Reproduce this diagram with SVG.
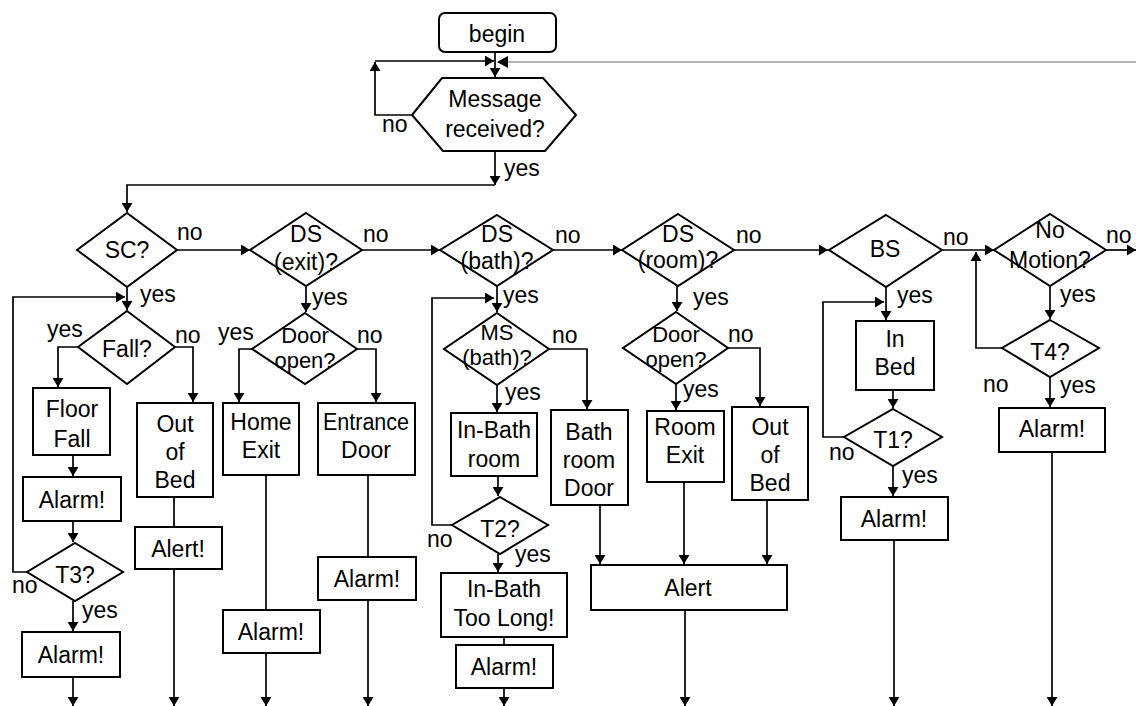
<svg xmlns="http://www.w3.org/2000/svg" width="1136" height="706" viewBox="0 0 1136 706">
<defs>
<marker id="ah" viewBox="0 0 10 10" markerWidth="9" markerHeight="11" refX="10" refY="5" orient="auto" markerUnits="userSpaceOnUse" preserveAspectRatio="none">
<path d="M0,0 L10,5 L0,10 z" fill="#000"/>
</marker>
</defs>
<style>
.s{fill:#fff;stroke:#000;stroke-width:2}
.c{fill:none;stroke:#000;stroke-width:1.7}
.a{marker-end:url(#ah)}
.g{fill:none;stroke:#999;stroke-width:1.6}
text{font-family:"Liberation Sans",Arial,sans-serif;font-size:23px;fill:#000}
.m{text-anchor:middle}
.t{font-size:22px}
</style>
<rect width="1136" height="706" fill="#fff"/>
<g id="connectors">
<path class="c a" d="M495,52 V77"/>
<path class="c a" d="M412,115 H375 V62"/>
<path class="c a" d="M375,61 H494"/>
<path class="g" d="M1136,62 H506"/>
<path d="M508,56 L497,62 L508,68 z" fill="#000"/>
<path class="c a" d="M495,151 V185"/>
<path class="c a" d="M495,185 H127 V212"/>
<path class="c a" d="M177,250 H250"/>
<path class="c a" d="M362,250 H440"/>
<path class="c a" d="M553,250 H622"/>
<path class="c a" d="M734,250 H828"/>
<path class="c a" d="M942,250 H994"/>
<path class="c a" d="M1106,250 H1136"/>
<path class="c a" d="M127,287 V310"/>
<path class="c a" d="M27,572 H13 V297 H125"/>
<path class="c a" d="M78,347 H58 V387"/>
<path class="c a" d="M175,347 H193 V402"/>
<path class="c a" d="M73,455 V476"/>
<path class="c a" d="M73,521 V542"/>
<path class="c a" d="M73,601 V631"/>
<path class="c a" d="M73,677 V706"/>
<path class="c" d="M174,497 V527"/>
<path class="c a" d="M174,569 V706"/>
<path class="c a" d="M306,286 V312"/>
<path class="c a" d="M252,349 H239 V402"/>
<path class="c a" d="M357,349 H376 V402"/>
<path class="c" d="M266,475 V610"/>
<path class="c a" d="M266,653 V706"/>
<path class="c" d="M368,475 V557"/>
<path class="c a" d="M368,600 V706"/>
<path class="c a" d="M497,286 V312"/>
<path class="c a" d="M452,525 H432 V298 H494"/>
<path class="c a" d="M549,349 H587 V409"/>
<path class="c a" d="M497,385 V412"/>
<path class="c a" d="M498,476 V496"/>
<path class="c a" d="M498,554 V572"/>
<path class="c" d="M504,637 V645"/>
<path class="c a" d="M504,688 V706"/>
<path class="c a" d="M600,505 V564"/>
<path class="c a" d="M677,286 V311"/>
<path class="c a" d="M728,348 H760 V406"/>
<path class="c a" d="M676,384 V410"/>
<path class="c a" d="M684,482 V564"/>
<path class="c a" d="M767,500 V564"/>
<path class="c a" d="M685,610 V706"/>
<path class="c a" d="M886,287 V320"/>
<path class="c a" d="M844,437 H823 V302 H884"/>
<path class="c a" d="M893,390 V408"/>
<path class="c a" d="M893,466 V496"/>
<path class="c a" d="M894,540 V706"/>
<path class="c a" d="M1050,286 V319"/>
<path class="c a" d="M1002,348 H976 V252"/>
<path class="c a" d="M1050,377 V407"/>
<path class="c a" d="M1052,452 V706"/>
<text x="382" y="132">no</text>
<text x="504" y="176">yes</text>
<text x="177" y="240">no</text>
<text x="140" y="302">yes</text>
<text x="363" y="242">no</text>
<text x="312" y="305">yes</text>
<text x="47" y="337">yes</text>
<text x="175" y="343">no</text>
<text x="218" y="340">yes</text>
<text x="357" y="343">no</text>
<text x="12" y="593">no</text>
<text x="82" y="618">yes</text>
<text x="555" y="243">no</text>
<text x="503" y="303">yes</text>
<text x="552" y="343">no</text>
<text x="505" y="400">yes</text>
<text x="427" y="547">no</text>
<text x="515" y="562">yes</text>
<text x="736" y="243">no</text>
<text x="693" y="305">yes</text>
<text x="728" y="342">no</text>
<text x="683" y="397">yes</text>
<text x="943" y="245">no</text>
<text x="897" y="303">yes</text>
<text x="829" y="460">no</text>
<text x="902" y="483">yes</text>
<text x="1106" y="243">no</text>
<text x="1060" y="302">yes</text>
<text x="983" y="392">no</text>
<text x="1060" y="393">yes</text>
</g>
<g id="begin"><rect class="s" x="439" y="13" width="117" height="39" rx="6"/><text class="m" x="497" y="42">begin</text></g>
<g id="msg"><path class="s" d="M412,115 L442,78 H543 L576,115 L545,151 H443 Z"/><text class="m" x="495" y="107">Message</text><text class="m" x="495" y="137">received?</text></g>
<g id="sc"><path class="s" d="M127,213 L177,250 L127,287 L77,250 Z"/><text class="m" x="127" y="258">SC?</text></g>
<g id="dsexit"><path class="s" d="M306,213 L362,250 L306,286 L250,250 Z"/><text class="m" x="306" y="242">DS</text><text class="m" x="306" y="270">(exit)?</text></g>
<g id="dsbath"><path class="s" d="M497,215 L553,250 L497,286 L440,250 Z"/><text class="m" x="497" y="242">DS</text><text class="m" x="497" y="269">(bath)?</text></g>
<g id="dsroom"><path class="s" d="M678,214 L734,250 L678,286 L622,250 Z"/><text class="m" x="678" y="242">DS</text><text class="m" x="678" y="268">(room)?</text></g>
<g id="bs"><path class="s" d="M886,215 L942,250 L886,287 L829,250 Z"/><text class="m" x="885" y="257">BS</text></g>
<g id="nomotion"><path class="s" d="M1050,214 L1106,250 L1050,286 L994,250 Z"/><text class="m" x="1050" y="238">No</text><text class="m" x="1050" y="268">Motion?</text></g>
<g id="fall"><path class="s" d="M127,311 L175,347 L127,384 L78,347 Z"/><text class="m" x="127" y="357">Fall?</text></g>
<g id="dooropen1"><path class="s" d="M305,313 L357,349 L305,384 L252,349 Z"/><text class="m t" x="305" y="343">Door</text><text class="m t" x="305" y="368">open?</text></g>
<g id="msbath"><path class="s" d="M497,313 L549,349 L497,385 L444,349 Z"/><text class="m t" x="497" y="340">MS</text><text class="m t" x="497" y="365">(bath)?</text></g>
<g id="dooropen2"><path class="s" d="M676,312 L728,348 L676,384 L623,348 Z"/><text class="m t" x="676" y="342">Door</text><text class="m t" x="676" y="367">open?</text></g>
<g id="floorfall"><rect class="s" x="33" y="388" width="77" height="67"/><text class="m" x="72" y="417">Floor</text><text class="m" x="72" y="447">Fall</text></g>
<g id="alarm1"><rect class="s" x="23" y="477" width="98" height="44"/><text class="m" x="72" y="508">Alarm!</text></g>
<g id="t3"><path class="s" d="M75,543 L123,572 L75,601 L27,572 Z"/><text class="m" x="75" y="583">T3?</text></g>
<g id="alarm2"><rect class="s" x="22" y="632" width="98" height="45"/><text class="m" x="71" y="663">Alarm!</text></g>
<g id="outofbed1"><rect class="s" x="137" y="403" width="76" height="94"/><text class="m" x="175" y="432">Out</text><text class="m" x="175" y="460">of</text><text class="m" x="175" y="488">Bed</text></g>
<g id="alert1"><rect class="s" x="135" y="527" width="87" height="42"/><text class="m" x="178" y="557">Alert!</text></g>
<g id="homeexit"><rect class="s" x="223" y="403" width="76" height="72"/><text class="m" x="261" y="430">Home</text><text class="m" x="261" y="458">Exit</text></g>
<g id="alarm3"><rect class="s" x="223" y="610" width="97" height="43"/><text class="m" x="271" y="640">Alarm!</text></g>
<g id="entrance"><rect class="s" x="318" y="403" width="97" height="72"/><text class="m" x="366" y="430" textLength="86" lengthAdjust="spacingAndGlyphs">Entrance</text><text class="m" x="366" y="458">Door</text></g>
<g id="alarm4"><rect class="s" x="318" y="557" width="98" height="43"/><text class="m" x="367" y="587">Alarm!</text></g>
<g id="inbathroom"><rect class="s" x="451" y="413" width="86" height="63"/><text class="m" x="494" y="438">In-Bath</text><text class="m" x="494" y="467">room</text></g>
<g id="t2"><path class="s" d="M500,497 L548,525 L500,554 L452,525 Z"/><text class="m" x="500" y="537">T2?</text></g>
<g id="toolong"><rect class="s" x="441" y="573" width="126" height="64"/><text class="m" x="504" y="597">In-Bath</text><text class="m" x="504" y="626">Too Long!</text></g>
<g id="alarm5"><rect class="s" x="456" y="645" width="97" height="43"/><text class="m" x="504" y="675">Alarm!</text></g>
<g id="bathroomdoor"><rect class="s" x="551" y="410" width="77" height="95"/><text class="m" x="589" y="440">Bath</text><text class="m" x="589" y="468">room</text><text class="m" x="589" y="496">Door</text></g>
<g id="roomexit"><rect class="s" x="647" y="411" width="77" height="71"/><text class="m" x="685" y="435">Room</text><text class="m" x="685" y="463">Exit</text></g>
<g id="outofbed2"><rect class="s" x="732" y="407" width="76" height="93"/><text class="m" x="770" y="435">Out</text><text class="m" x="770" y="463">of</text><text class="m" x="770" y="491">Bed</text></g>
<g id="alert2"><rect class="s" x="591" y="565" width="196" height="45"/><text class="m" x="688" y="596">Alert</text></g>
<g id="inbed"><rect class="s" x="856" y="321" width="78" height="69"/><text class="m" x="895" y="347">In</text><text class="m" x="895" y="375">Bed</text></g>
<g id="t1"><path class="s" d="M893,409 L942,437 L893,466 L844,437 Z"/><text class="m" x="893" y="448">T1?</text></g>
<g id="alarm6"><rect class="s" x="841" y="497" width="107" height="43"/><text class="m" x="894" y="527">Alarm!</text></g>
<g id="t4"><path class="s" d="M1050,320 L1099,348 L1050,377 L1002,348 Z"/><text class="m" x="1050" y="360">T4?</text></g>
<g id="alarm7"><rect class="s" x="999" y="408" width="106" height="44"/><text class="m" x="1052" y="437">Alarm!</text></g>
</svg>
